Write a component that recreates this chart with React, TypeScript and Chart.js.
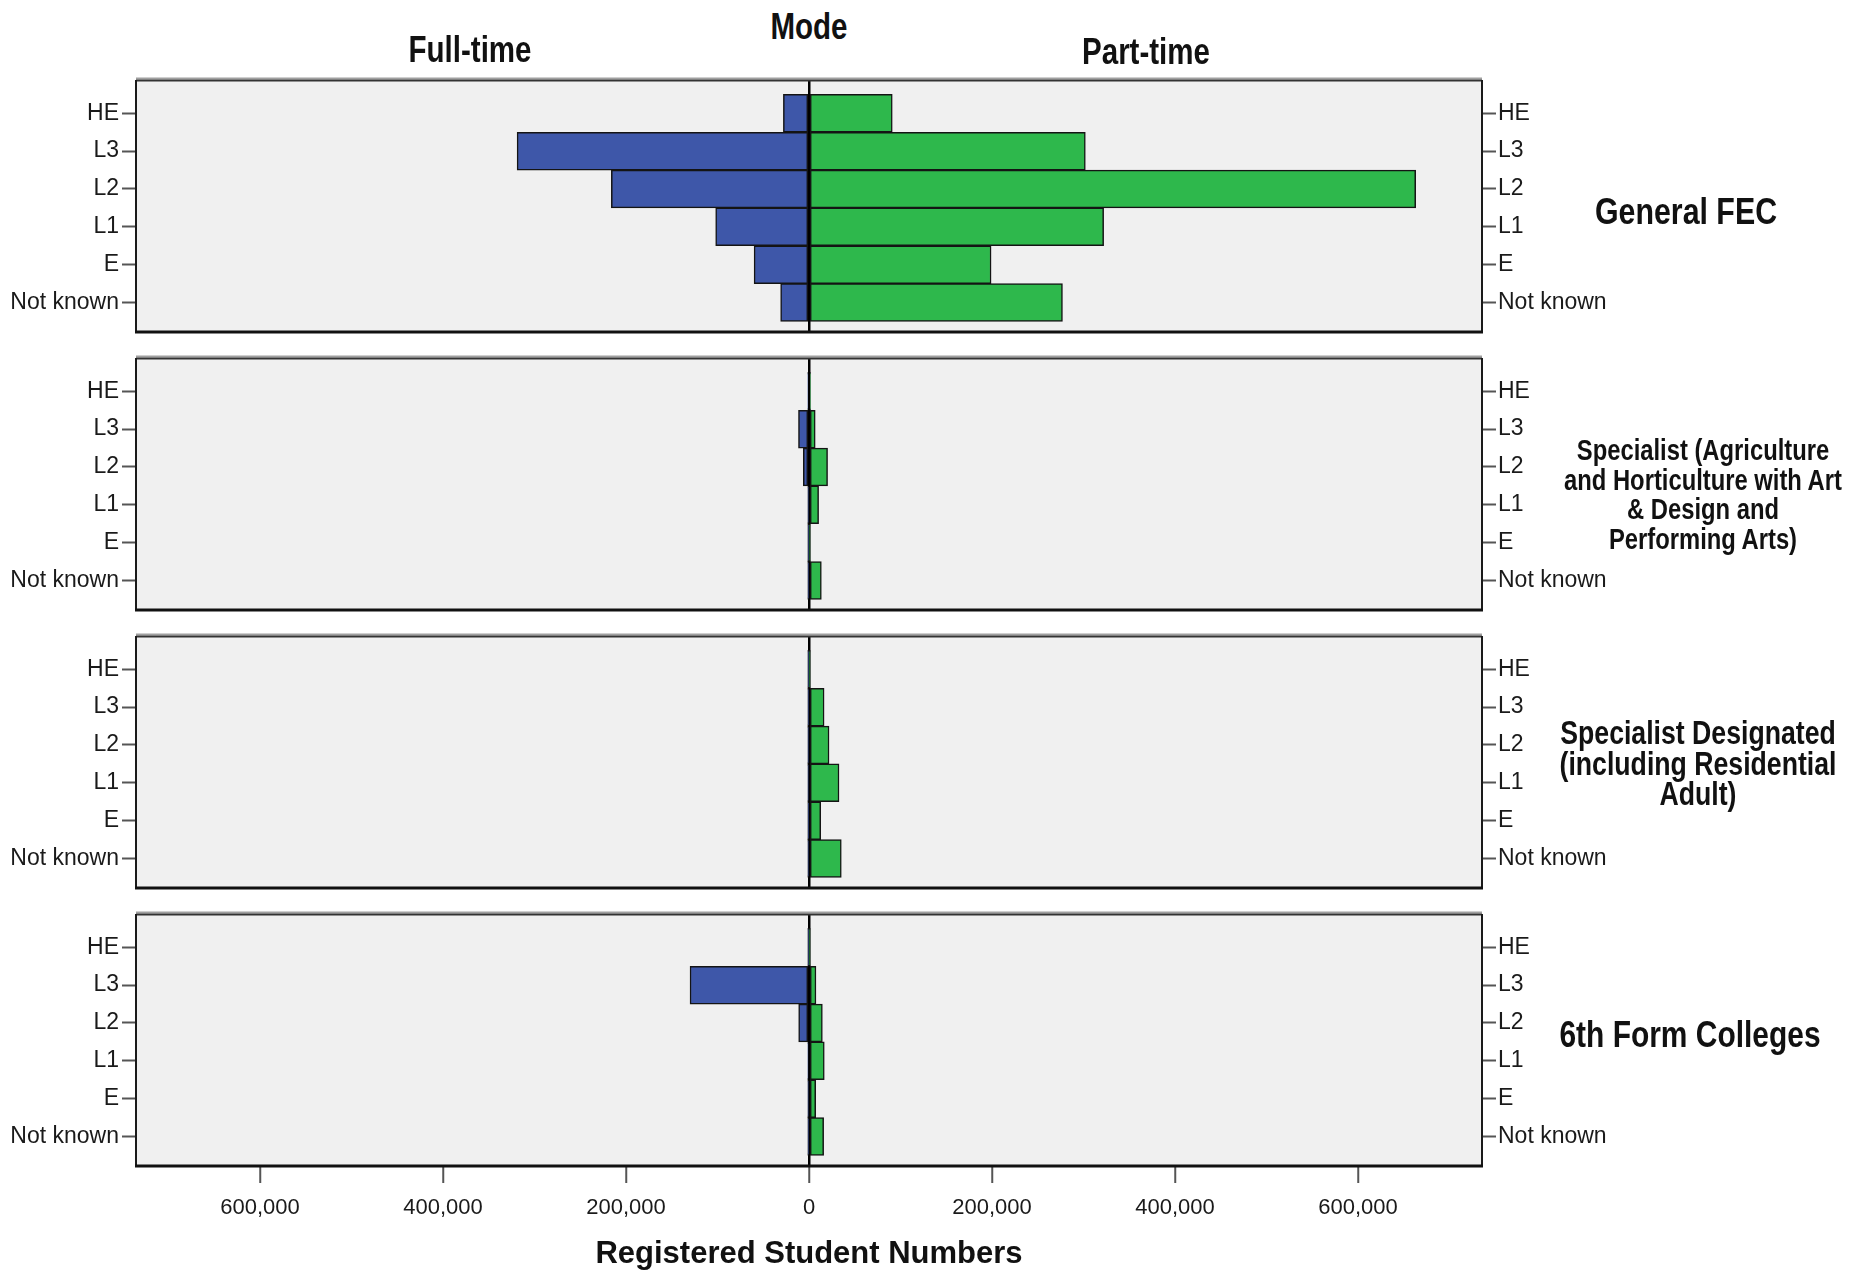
import React, { useEffect, useRef } from 'react';
import { Chart, registerables } from 'chart.js';

Chart.register(...registerables);

// ---------------- data ----------------
const levels = ['HE', 'L3', 'L2', 'L1', 'E', 'Not known'];
const xTickValues = [-600000, -400000, -200000, 0, 200000, 400000, 600000];
const xLimit = 735500;

const headerTitle = 'Mode';
const modeLabels = ['Full-time', 'Part-time'];
const axisTitle = 'Registered Student Numbers';

const generalFullTime = [28000, 319000, 216000, 102000, 60000, 31000];
const generalPartTime = [91000, 302000, 663000, 322000, 199000, 277000];

const specialistArtsFullTime = [1200, 11500, 6200, 500, 300, 400];
const specialistArtsPartTime = [1500, 6800, 20300, 10500, 500, 13500];

const designatedFullTime = [300, 400, 500, 600, 300, 500];
const designatedPartTime = [400, 16500, 21900, 32800, 12800, 35300];

const sixthFormFullTime = [300, 130000, 11300, 1000, 600, 400];
const sixthFormPartTime = [400, 7600, 14600, 16700, 7300, 16000];

const panelNames = [
  ['General FEC'],
  ['Specialist (Agriculture', 'and Horticulture with Art', '& Design and', 'Performing Arts)'],
  ['Specialist Designated', '(including Residential', 'Adult)'],
  ['6th Form Colleges'],
];

const panelFullTime = [generalFullTime, specialistArtsFullTime, designatedFullTime, sixthFormFullTime];
const panelPartTime = [generalPartTime, specialistArtsPartTime, designatedPartTime, sixthFormPartTime];

// ---------------- layout / style ----------------
const W = 1851;
const H = 1273;
const PANEL_TOPS = [80, 358, 636, 914];
const PANEL_H = 252;
const PLOT_LEFT = 136;
const PLOT_RIGHT = 1482;
const RIGHT_AXIS_W = 150;
const PAD = 22;
const Y_MIN = -0.88;
const Y_MAX = 5.78;

const FONT = '"Liberation Sans", Arial, sans-serif';
const BLUE = '#3E57A9';
const GREEN = '#2EB84C';
const PANEL_BG = '#F0F0F0';
const NARROW = 0.82;

const nameLayout = [
  { x: 1686, y: 212, size: 37, lh: 36 },
  { x: 1703, y: 495, size: 29, lh: 29.5 },
  { x: 1698, y: 764, size: 32.5, lh: 30.7 },
  { x: 1690, y: 1035, size: 36.5, lh: 36 },
];

Chart.defaults.font.family = FONT;

const panelBox = {
  id: 'panelBox',
  beforeDraw(chart: any) {
    const { ctx, chartArea: a } = chart;
    ctx.save();
    ctx.fillStyle = PANEL_BG;
    ctx.fillRect(a.left, a.top, a.right - a.left, a.bottom - a.top);
    ctx.restore();
  },
  afterDatasetsDraw(chart: any) {
    const { ctx, chartArea: a } = chart;
    ctx.save();
    ctx.strokeStyle = '#a0a0a0';
    ctx.lineWidth = 2;
    ctx.beginPath();
    ctx.moveTo(a.left, a.top - 1.5);
    ctx.lineTo(a.right, a.top - 1.5);
    ctx.stroke();
    ctx.strokeStyle = '#333';
    ctx.lineWidth = 2;
    ctx.beginPath();
    ctx.moveTo(a.left, a.top + 0.5);
    ctx.lineTo(a.right, a.top + 0.5);
    ctx.stroke();
    ctx.strokeStyle = '#1a1a1a';
    ctx.lineWidth = 2;
    ctx.beginPath();
    ctx.moveTo(a.left, a.top);
    ctx.lineTo(a.left, a.bottom);
    ctx.moveTo(a.right, a.top);
    ctx.lineTo(a.right, a.bottom);
    ctx.stroke();
    ctx.strokeStyle = '#111';
    ctx.lineWidth = 3;
    ctx.beginPath();
    ctx.moveTo(a.left - 1, a.bottom);
    ctx.lineTo(a.right + 1, a.bottom);
    ctx.stroke();
    ctx.restore();
  },
};

function makeYAxis(position: 'left' | 'right') {
  return {
    type: 'linear',
    position,
    min: Y_MIN,
    max: Y_MAX,
    reverse: true,
    stacked: true,
    offset: false,
    afterBuildTicks: (s: any) => {
      s.ticks = levels.map((_, i) => ({ value: i }));
    },
    afterFit: (s: any) => {
      s.width = position === 'left' ? PLOT_LEFT : RIGHT_AXIS_W;
    },
    grid: {
      offset: false,
      drawOnChartArea: false,
      drawTicks: true,
      tickLength: 14,
      tickColor: '#555',
      tickWidth: 2,
      color: 'rgba(0,0,0,0)',
    },
    border: { display: false },
    ticks: {
      autoSkip: false,
      padding: position === 'left' ? 3 : 2,
      color: '#1a1a1a',
      font: { size: 23 },
      callback: (v: any) => levels[v] ?? '',
    },
  };
}

function Panel({ idx }: { idx: number }) {
  const ref = useRef<HTMLCanvasElement>(null);
  const isLast = idx === PANEL_TOPS.length - 1;
  const canvasTop = PANEL_TOPS[idx] - PAD;
  const canvasH = isLast ? H - canvasTop : PANEL_H + 2 * PAD;

  useEffect(() => {
    if (!ref.current) return;
    const full = panelFullTime[idx];
    const part = panelPartTime[idx];
    const chart = new Chart(ref.current, {
      type: 'bar',
      data: {
        datasets: [
          {
            label: modeLabels[0],
            data: full.map((v, i) => ({ x: -v, y: i })),
            backgroundColor: BLUE,
            borderColor: '#141414',
            borderWidth: 1.5,
            borderSkipped: false,
          },
          {
            label: modeLabels[1],
            data: part.map((v, i) => ({ x: v, y: i })),
            backgroundColor: GREEN,
            borderColor: '#141414',
            borderWidth: 1.5,
            borderSkipped: false,
          },
        ],
      } as any,
      options: {
        responsive: false,
        animation: false,
        events: [],
        indexAxis: 'y',
        layout: {
          padding: {
            left: 0,
            right: W - PLOT_RIGHT - RIGHT_AXIS_W,
            top: PAD,
            bottom: isLast ? 0 : PAD,
          },
        },
        datasets: { bar: { categoryPercentage: 1, barPercentage: 1 } },
        plugins: {
          legend: { display: false },
          tooltip: { enabled: false },
          title: { display: false },
        },
        scales: {
          x: {
            type: 'linear',
            min: -xLimit,
            max: xLimit,
            stacked: true,
            offset: false,
            afterBuildTicks: (s: any) => {
              s.ticks = xTickValues.map((v) => ({ value: v }));
            },
            afterFit: (s: any) => {
              s.height = isLast ? canvasH - PAD - PANEL_H : 0;
            },
            grid: {
              offset: false,
              drawOnChartArea: true,
              drawTicks: isLast,
              tickLength: 17,
              tickColor: '#555',
              tickWidth: 2,
              color: (c: any) => (c.tick && c.tick.value === 0 ? '#000' : 'rgba(0,0,0,0)'),
              lineWidth: 2.5,
            },
            border: { display: false },
            ticks: {
              display: isLast,
              autoSkip: false,
              maxRotation: 0,
              padding: 12,
              color: '#1a1a1a',
              font: { size: 22 },
              callback: (v: any) => Math.abs(Number(v)).toLocaleString('en-US'),
            },
            title: {
              display: isLast,
              text: axisTitle,
              color: '#111',
              font: { size: 31, weight: 'bold', lineHeight: 1.2 },
              padding: 0,
            },
          },
          y: makeYAxis('left'),
          y2: makeYAxis('right'),
        },
      } as any,
      plugins: [panelBox],
    });
    return () => chart.destroy();
  }, [idx]);

  return (
    <canvas
      ref={ref}
      width={W}
      height={canvasH}
      style={{ position: 'absolute', left: 0, top: canvasTop, width: W, height: canvasH, display: 'block' }}
    />
  );
}

const textBase: React.CSSProperties = {
  position: 'absolute',
  transform: `translate(-50%, -50%) scaleX(${NARROW})`,
  whiteSpace: 'nowrap',
  fontFamily: FONT,
  fontWeight: 'bold',
  color: '#111',
  textAlign: 'center',
  lineHeight: 1,
};

export default function App() {
  return (
    <div
      style={{
        position: 'fixed',
        left: 0,
        top: 0,
        width: W,
        height: H,
        overflow: 'hidden',
        background: '#fff',
      }}
    >
      {PANEL_TOPS.map((_, i) => (
        <Panel key={i} idx={i} />
      ))}
      <div style={{ ...textBase, left: 809, top: 27, fontSize: 36 }}>{headerTitle}</div>
      <div style={{ ...textBase, left: 470, top: 50, fontSize: 36 }}>{modeLabels[0]}</div>
      <div style={{ ...textBase, left: 1146, top: 52, fontSize: 36 }}>{modeLabels[1]}</div>
      {panelNames.map((lines, i) => (
        <div
          key={i}
          style={{
            ...textBase,
            left: nameLayout[i].x,
            top: nameLayout[i].y,
            fontSize: nameLayout[i].size,
            lineHeight: nameLayout[i].lh + 'px',
          }}
        >
          {lines.map((l, j) => (
            <div key={j}>{l}</div>
          ))}
        </div>
      ))}
    </div>
  );
}
